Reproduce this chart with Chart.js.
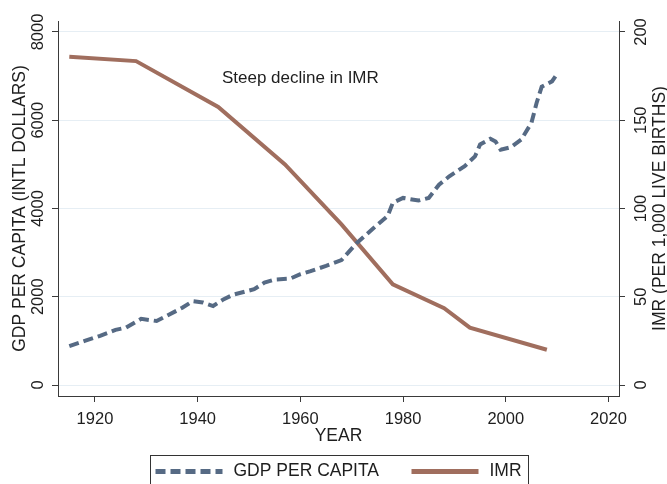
<!DOCTYPE html>
<html>
<head>
<meta charset="utf-8">
<script src="https://cdn.jsdelivr.net/npm/chart.js@4/dist/chart.umd.min.js"></script>
<style>
  html, body { margin: 0; padding: 0; background: #fff; }
  #wrap { width: 667px; height: 484px; }
</style>
</head>
<body>
<div id="wrap"><canvas id="imr-chart" width="667" height="484"></canvas></div>
<script>
// GDP per capita (intl dollars)
const gdpYears = [1915, 1918, 1921, 1924, 1926, 1929, 1932, 1934, 1937, 1939, 1941, 1943, 1945, 1947,
    1951, 1953, 1955, 1958, 1960, 1962, 1965, 1968, 1971, 1974, 1977, 1978, 1980, 1983, 1985, 1987,
    1989, 1992, 1994, 1995, 1997, 1998, 1999, 2001, 2003, 2005, 2006, 2007, 2009, 2010];
const gdpValues = [880, 1000, 1115, 1250, 1300, 1500, 1450, 1570, 1750, 1900, 1870, 1790, 1940, 2050,
    2170, 2320, 2390, 2410, 2510, 2580, 2700, 2830, 3220, 3530, 3830, 4130, 4240, 4180, 4240, 4540,
    4730, 4960, 5180, 5450, 5580, 5520, 5330, 5390, 5560, 5940, 6390, 6760, 6880, 7050];

// infant mortality rate (per 1,000 live births)
const imrYears = [1915, 1928, 1944, 1957, 1968, 1978, 1988, 1993, 2008];
const imrValues = [186, 183.5, 157.5, 125, 91, 57, 43.5, 32.5, 20];

// tick labels
const yearTicks = [1920, 1940, 1960, 1980, 2000, 2020];
const gdpTicks = [0, 2000, 4000, 6000, 8000];
const imrTicks = [0, 50, 100, 150, 200];

// note placed on the plot
const noteText = 'Steep decline in IMR';
const noteYear = 1960;
const noteImr = 174;

const FONT = '"Liberation Sans", Arial, Helvetica, sans-serif';
const TEXT = '#1e1e1e';
const AXIS = '#3a3a3a';
const GDP_COLOR = '#566a84';
const IMR_COLOR = '#a06e5e';

const toPoints = (xs, ys) => xs.map((x, i) => ({ x: x, y: ys[i] }));

// y tick labels and titles are rotated, which chart.js only does for x axes, so draw them here
const stataText = {
    id: 'stataText',
    afterDraw(chart) {
        const { ctx, chartArea, scales } = chart;
        const midY = (chartArea.top + chartArea.bottom) / 2;
        const rot = (text, x, y, size) => {
            ctx.save();
            ctx.translate(x, y);
            ctx.rotate(-Math.PI / 2);
            ctx.font = size + 'px ' + FONT;
            ctx.fillText(text, 0, 0);
            ctx.restore();
        };
        ctx.save();
        ctx.fillStyle = TEXT;
        ctx.textAlign = 'center';
        ctx.textBaseline = 'middle';

        gdpTicks.forEach(v => rot(String(v), scales.y.right - 20, scales.y.getPixelForValue(v), 16.5));
        imrTicks.forEach(v => rot(String(v), scales.y1.left + 22, scales.y1.getPixelForValue(v), 16.5));
        rot('GDP PER CAPITA (INTL DOLLARS)', scales.y.right - 38, midY, 17.5);
        rot('IMR (PER 1,000 LIVE BIRTHS)', scales.y1.left + 41, midY, 17.5);

        // note
        ctx.font = '17px ' + FONT;
        ctx.fillText(noteText, scales.x.getPixelForValue(noteYear), scales.y1.getPixelForValue(noteImr));

        // legend box under the plot
        const boxW = 378;
        const boxL = Math.round((chartArea.left + chartArea.right) / 2 - boxW / 2) + 0.5;
        const boxT = 455.5;
        ctx.strokeStyle = '#333';
        ctx.lineWidth = 1;
        ctx.strokeRect(boxL, boxT, boxW, 40);

        const ly = boxT + 16;
        const ds = chart.data.datasets;
        const items = [
            { ds: ds[0], x0: boxL + 5, x1: boxL + 72, tx: boxL + 83 },
            { ds: ds[1], x0: boxL + 261, x1: boxL + 328, tx: boxL + 339 }
        ];
        items.forEach(it => {
            ctx.save();
            ctx.strokeStyle = it.ds.borderColor;
            ctx.lineWidth = 5;
            ctx.setLineDash(it.ds.borderDash || []);
            ctx.beginPath();
            ctx.moveTo(it.x0, ly);
            ctx.lineTo(it.x1, ly);
            ctx.stroke();
            ctx.restore();
            ctx.font = '17.5px ' + FONT;
            ctx.textAlign = 'left';
            ctx.fillText(it.ds.label, it.tx, ly);
        });
        ctx.restore();
    }
};

const chart = new Chart(document.getElementById('imr-chart'), {
    type: 'line',
    data: {
        datasets: [
            {
                label: 'GDP PER CAPITA',
                data: toPoints(gdpYears, gdpValues),
                yAxisID: 'y',
                borderColor: GDP_COLOR,
                borderWidth: 4,
                borderDash: [10, 5],
                pointRadius: 0,
                tension: 0,
                fill: false
            },
            {
                label: 'IMR',
                data: toPoints(imrYears, imrValues),
                yAxisID: 'y1',
                borderColor: IMR_COLOR,
                borderWidth: 4,
                pointRadius: 0,
                tension: 0,
                fill: false
            }
        ]
    },
    options: {
        responsive: false,
        animation: false,
        layout: { padding: { left: 52, right: 42, top: 21, bottom: 38.7 } },
        plugins: {
            legend: { display: false },
            tooltip: { enabled: false }
        },
        scales: {
            x: {
                type: 'linear',
                min: 1912.8,
                max: 2022.05,
                afterBuildTicks: s => { s.ticks = yearTicks.map(v => ({ value: v })); },
                grid: { drawOnChartArea: false, drawTicks: true, tickLength: 6, tickColor: AXIS },
                border: { color: AXIS, width: 1 },
                ticks: {
                    color: TEXT,
                    font: { size: 16.5, family: FONT },
                    padding: 8,
                    maxRotation: 0,
                    callback: v => String(v)
                },
                title: {
                    display: true,
                    text: 'YEAR',
                    color: TEXT,
                    font: { size: 17.5, family: FONT, lineHeight: 1 },
                    padding: { top: -10, bottom: 0 }
                }
            },
            y: {
                position: 'left',
                min: -248.6,
                max: 8248.6,
                afterBuildTicks: s => { s.ticks = gdpTicks.map(v => ({ value: v })); },
                grid: { color: '#e6eef4', lineWidth: 1, drawTicks: true, tickLength: 6, tickColor: AXIS },
                border: { color: AXIS, width: 1 },
                ticks: { display: false }
            },
            y1: {
                position: 'right',
                min: -6.215,
                max: 206.215,
                afterBuildTicks: s => { s.ticks = imrTicks.map(v => ({ value: v })); },
                grid: { drawOnChartArea: false, drawTicks: true, tickLength: 6, tickColor: AXIS },
                border: { color: AXIS, width: 1 },
                ticks: { display: false }
            }
        }
    },
    plugins: [stataText]
});
</script>
</body>
</html>
